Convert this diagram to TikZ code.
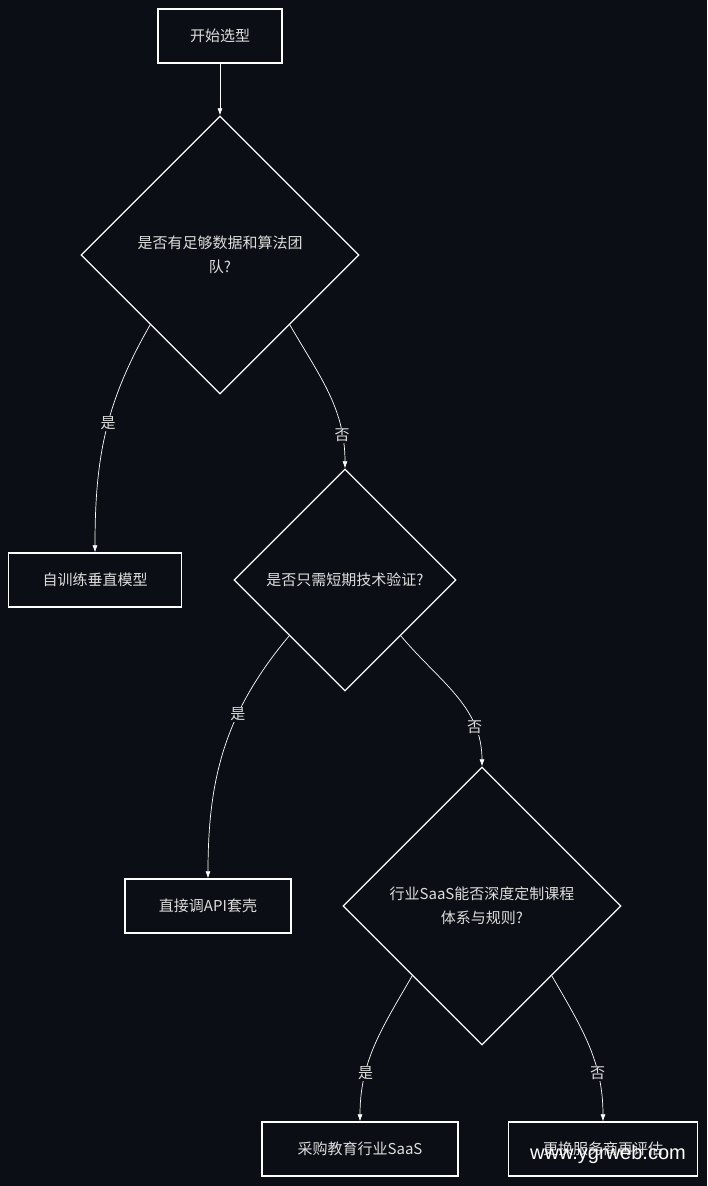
\documentclass[tikz,border=0pt]{standalone}
\usepackage{fontspec}
\setmainfont{Liberation Sans}
\newfontfamily\cjk{Noto Sans CJK SC}
\usetikzlibrary{shapes.geometric,arrows.meta}
\definecolor{bgdark}{HTML}{0B0E14}
\definecolor{txtgray}{HTML}{DDDDDD}

\begin{document}
\begin{tikzpicture}[x=1pt,y=-1pt,
	box/.style={draw=white, line width=1.3pt, fill=bgdark, text=txtgray, minimum height=54pt, font=\cjk\fontsize{15}{20}\selectfont},
	choice/.style={diamond, draw=white, line width=1.3pt, fill=bgdark, text=txtgray, aspect=1, inner sep=0pt, align=center, font=\cjk\fontsize{15}{24}\selectfont},
	flow/.style={draw=white, line width=0.7pt, -{Latex[length=7pt,width=5pt]}},
	lbl/.style={fill=bgdark, text=txtgray, inner sep=1pt, font=\cjk\fontsize{15}{18}\selectfont}]
	\fill[bgdark] (0,0) rectangle (707,1186);
	\useasboundingbox (0,0) rectangle (707,1186);

	\node[box, minimum width=124pt] (start) at (220,36) {开始选型};
	\node[choice, minimum size=278pt] (q1) at (220,255) {是否有足够数据和算法团\\队?};
	\node[box, minimum width=173pt] (train) at (95,580) {自训练垂直模型};
	\node[choice, minimum size=222pt] (q2) at (345,580) {是否只需短期技术验证?};
	\node[box, minimum width=166pt] (api) at (208,906) {直接调API套壳};
	\node[choice, minimum size=278pt] (q3) at (482,906) {行业SaaS能否深度定制课程\\体系与规则?};
	\node[box, minimum width=196pt] (saas) at (360,1149) {采购教育行业SaaS};
	\node[box, minimum width=189pt] (redo) at (603,1149) {更换服务商再评估};

	\draw[flow] (start) -- (q1);
	\draw[flow] (q1.south west) to[out=-120,in=90] node[lbl, pos=0.45] {是} (train.north);
	\draw[flow] (q1.south east) to[out=-60,in=90] node[lbl, pos=0.8] {否} (q2.north);
	\draw[flow] (q2.south west) to[out=-130,in=90] node[lbl, pos=0.35] {是} (api.north);
	\draw[flow] (q2.south east) to[out=-50,in=90] node[lbl, pos=0.75] {否} (q3.north);
	\draw[flow] (q3.south west) to[out=-120,in=90] node[lbl, pos=0.7] {是} (saas.north);
	\draw[flow] (q3.south east) to[out=-60,in=90] node[lbl, pos=0.7] {否} (redo.north);

	\node[text=white, font=\fontsize{20}{22}\selectfont] (mark) at (608,1154) {www.ygrweb.com};
\end{tikzpicture}
\end{document}
